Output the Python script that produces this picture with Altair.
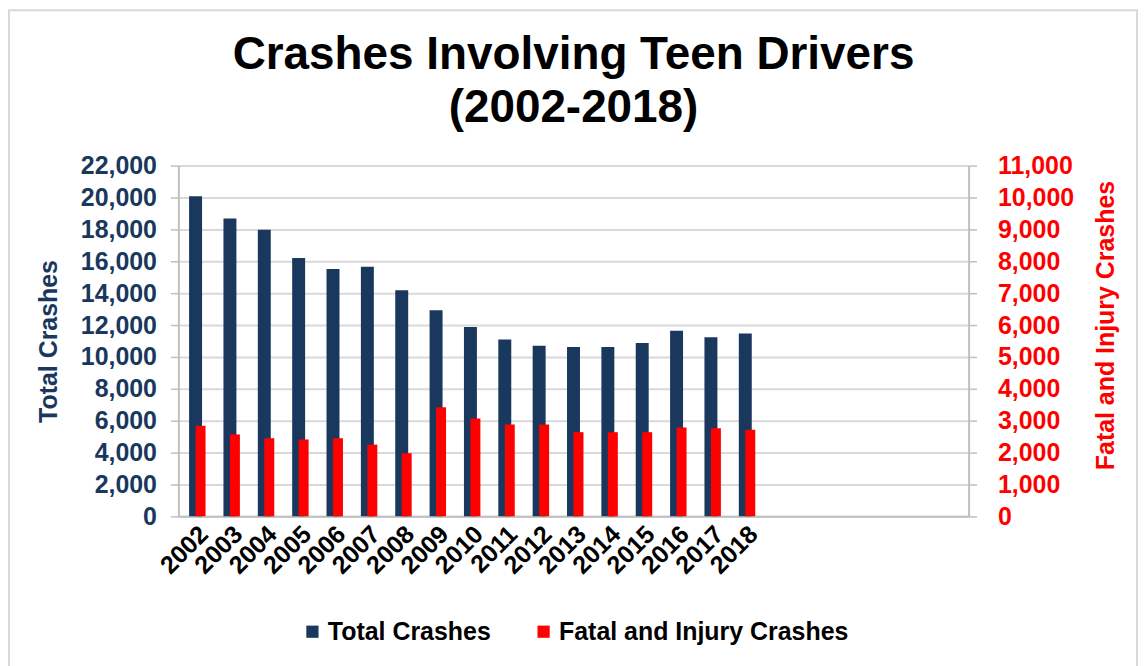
import altair as alt
import pandas as pd

years = [str(y) for y in range(2002, 2019)]
pad_slots = ["_1", "_2", "_3", "_4", "_5", "_6"]
total_crashes = [20080, 18690, 17980, 16200, 15520, 15660, 14180, 12930,
                 11870, 11090, 10700, 10620, 10620, 10870, 11640, 11240, 11470]
fatal_injury = [2840, 2570, 2450, 2410, 2450, 2250, 1980, 3420,
                3070, 2880, 2880, 2640, 2640, 2640, 2790, 2760, 2720]

series_names = ["Total Crashes", "Fatal and Injury Crashes"]
series_colors = ["#1a375e", "#ff0000"]

df_total = pd.DataFrame({"Year": years, "Series": series_names[0], "Value": total_crashes})
df_fatal = pd.DataFrame({"Year": years, "Series": series_names[1], "Value": fatal_injury})

FONT = "Liberation Sans"
GRID = "#d9d9d9"
AXIS_LINE = "#bfbfbf"

x_axis = alt.Axis(
    title=None, labelAngle=315, labelFont=FONT, labelFontSize=25, labelFontWeight="bold",
    labelColor="black", ticks=False, domainColor=AXIS_LINE, domainWidth=2,
    labelPadding=5,
    labelExpr="substring(datum.label, 0, 1) == '_' ? '' : datum.label",
)
x_scale = alt.Scale(domain=years + pad_slots, paddingInner=0, paddingOuter=0)

color_scale = alt.Scale(domain=series_names, range=series_colors)
legend = alt.Legend(
    title=None, orient="none", direction="horizontal", legendX=122, legendY=455,
    symbolType="square", symbolSize=150, symbolStrokeWidth=0,
    labelFont=FONT, labelFontSize=25, labelFontWeight="bold", labelColor="black",
    labelOffset=3, columnPadding=40, labelLimit=500,
)

frame = alt.Chart(pd.DataFrame({"a": [0]})).mark_rect(
    filled=False, stroke=GRID, strokeWidth=2
).encode(
    x=alt.value(-170), x2=alt.value(962), y=alt.value(-156), y2=alt.value(520)
)

bars_total = alt.Chart(df_total).mark_bar(size=13).encode(
    x=alt.X("Year:N", scale=x_scale, axis=x_axis, sort=None),
    y=alt.Y("Value:Q", scale=alt.Scale(domain=[0, 22000], nice=False),
            axis=alt.Axis(
                title="Total Crashes", titleFont=FONT, titleFontSize=25, titleFontWeight="bold",
                titleColor="#1a375e", titlePadding=19,
                values=list(range(0, 22001, 2000)), format=",.0f",
                labelFont=FONT, labelFontSize=25, labelFontWeight="bold", labelColor="#1a375e",
                labelPadding=14, tickSize=8, tickColor=AXIS_LINE, tickWidth=1.5,
                domainColor=AXIS_LINE, domainWidth=2,
                grid=True, gridColor=GRID, gridWidth=2,
            )),
    color=alt.Color("Series:N", scale=color_scale, legend=legend),
)

bars_fatal = alt.Chart(df_fatal).mark_bar(size=10, xOffset=5).encode(
    x=alt.X("Year:N", scale=x_scale, axis=x_axis, sort=None),
    y=alt.Y("Value:Q", scale=alt.Scale(domain=[0, 11000], nice=False),
            axis=alt.Axis(
                orient="right",
                title="Fatal and Injury Crashes", titleFont=FONT, titleFontSize=25,
                titleFontWeight="bold", titleColor="#ff0000", titleAngle=270,
                titleBaseline="top", titlePadding=20, titleY=160,
                values=list(range(0, 11001, 1000)), format=",.0f",
                labelFont=FONT, labelFontSize=25, labelFontWeight="bold", labelColor="#ff0000",
                labelPadding=21, tickSize=8, tickColor=AXIS_LINE, tickWidth=1.5,
                domainColor=AXIS_LINE, domainWidth=2, grid=False,
            )),
    color=alt.Color("Series:N", scale=color_scale, legend=legend),
)

chart = alt.layer(frame, bars_total, bars_fatal).resolve_scale(
    y="independent"
).properties(
    width=793, height=352,
    autosize=alt.AutoSizeParams(type="none"),
    padding={"left": 171, "top": 157, "right": 172, "bottom": 149},
    title=alt.TitleParams(
        text=["Crashes Involving Teen Drivers", "(2002-2018)"],
        font=FONT, fontSize=46, fontWeight="bold", color="black",
        anchor="middle", frame="group", lineHeight=53, baseline="bottom",
        offset=0, dy=169,
    ),
    background="white",
).configure_view(strokeWidth=0)

chart.save("out.html", embed_options={"renderer": "svg", "actions": False})
